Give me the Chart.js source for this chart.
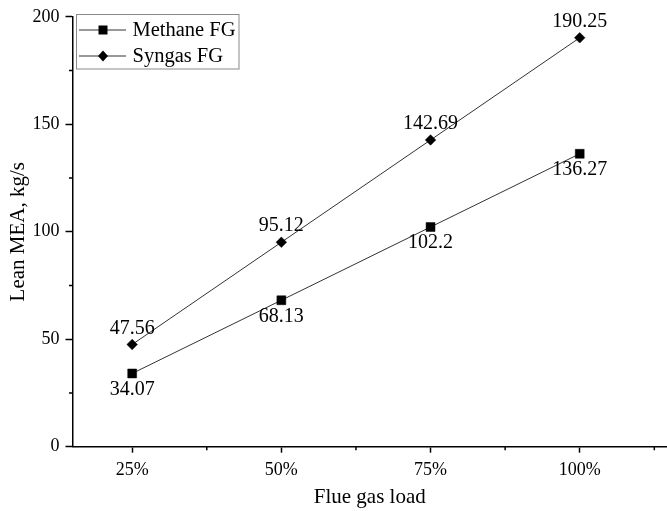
<!DOCTYPE html>
<html>
<head>
<meta charset="utf-8">
<script src="https://cdn.jsdelivr.net/npm/chart.js@4/dist/chart.umd.min.js"></script>
<style>
  html, body { margin: 0; padding: 0; background: #fff; }
  #wrap { width: 667px; height: 511px; position: relative; }
</style>
</head>
<body>
<div id="wrap"><canvas id="mea-chart"></canvas></div>
<script>
// Flue gas load categories and lean MEA flow (kg/s)
const loads = ['25%', '50%', '75%', '100%'];
const methaneFG = [34.07, 68.13, 102.2, 136.27];
const syngasFG = [47.56, 95.12, 142.69, 190.25];

const yTicks = [0, 50, 100, 150, 200];
const yMinorTicks = [25, 75, 125, 175];
const xMinorTicks = [1.5, 2.5, 3.5, 4.5];

const SERIF = '"Liberation Serif", "Times New Roman", serif';

const toPoints = values => values.map((v, i) => ({ x: i + 1, y: v }));

// Minor tick marks, value labels and the boxed legend
const decorations = {
  id: 'decorations',
  afterDraw(chart) {
    const { ctx, scales: { x, y } } = chart;
    ctx.save();

    // minor ticks
    ctx.strokeStyle = '#000';
    ctx.lineWidth = 1.5;
    ctx.beginPath();
    xMinorTicks.forEach(v => {
      const px = x.getPixelForValue(v);
      ctx.moveTo(px, y.bottom);
      ctx.lineTo(px, y.bottom + 3.5);
    });
    yMinorTicks.forEach(v => {
      const py = y.getPixelForValue(v);
      ctx.moveTo(x.left, py);
      ctx.lineTo(x.left - 3.5, py);
    });
    ctx.stroke();

    // value labels: syngas above, methane below
    ctx.fillStyle = '#000';
    ctx.font = '20px ' + SERIF;
    ctx.textAlign = 'center';
    ctx.textBaseline = 'middle';
    syngasFG.forEach((v, i) => {
      ctx.fillText(String(v), x.getPixelForValue(i + 1), y.getPixelForValue(v) - 16);
    });
    methaneFG.forEach((v, i) => {
      ctx.fillText(String(v), x.getPixelForValue(i + 1), y.getPixelForValue(v) + 16);
    });

    // legend
    const lx = 76.5, ly = 14.5, lw = 162.5, lh = 54.5;
    ctx.strokeStyle = '#8a8a8a';
    ctx.lineWidth = 1;
    ctx.strokeRect(lx, ly, lw, lh);

    const rows = [
      { label: 'Methane FG', style: 'rect', y: 30 },
      { label: 'Syngas FG', style: 'rectRot', y: 56 }
    ];
    rows.forEach(row => {
      ctx.strokeStyle = '#333';
      ctx.lineWidth = 1;
      ctx.beginPath();
      ctx.moveTo(79, row.y);
      ctx.lineTo(126, row.y);
      ctx.stroke();
      ctx.fillStyle = '#000';
      ctx.beginPath();
      if (row.style === 'rect') {
        ctx.rect(103 - 4.5, row.y - 4.5, 9, 9);
      } else {
        ctx.moveTo(103, row.y - 5.5);
        ctx.lineTo(108, row.y);
        ctx.lineTo(103, row.y + 5.5);
        ctx.lineTo(98, row.y);
        ctx.closePath();
      }
      ctx.fill();
      ctx.font = '20.5px ' + SERIF;
      ctx.textAlign = 'left';
      ctx.textBaseline = 'middle';
      ctx.fillText(row.label, 132.5, row.y + 1);
    });

    ctx.restore();
  }
};

const ctx = document.getElementById('mea-chart').getContext('2d');
new Chart(ctx, {
  type: 'line',
  data: {
    datasets: [
      {
        label: 'Methane FG',
        data: toPoints(methaneFG),
        borderColor: '#333',
        borderWidth: 1,
        pointStyle: 'rect',
        pointRadius: 6.3,
        pointBackgroundColor: '#000',
        pointBorderColor: '#000',
        pointBorderWidth: 0.5,
        tension: 0
      },
      {
        label: 'Syngas FG',
        data: toPoints(syngasFG),
        borderColor: '#333',
        borderWidth: 1,
        pointStyle: 'rectRot',
        pointRadius: 5.3,
        pointBackgroundColor: '#000',
        pointBorderColor: '#000',
        pointBorderWidth: 0.5,
        tension: 0
      }
    ]
  },
  options: {
    responsive: true,
    maintainAspectRatio: false,
    animation: false,
    layout: { autoPadding: false, padding: { top: 15.7, right: 0, bottom: 0, left: 0 } },
    plugins: {
      legend: { display: false },
      tooltip: { enabled: false }
    },
    scales: {
      x: {
        type: 'linear',
        min: 0.6,
        max: 4.585,
        afterBuildTicks: scale => {
          scale.ticks = loads.map((_, i) => ({ value: i + 1 }));
        },
        afterFit: scale => {
          scale.height = 64.3;
          scale.paddingLeft = 0;
          scale.paddingRight = 0;
        },
        border: { display: true, color: '#000', width: 1.5 },
        grid: { drawOnChartArea: false, tickLength: 6, tickColor: '#000', tickWidth: 1.5 },
        ticks: {
          color: '#000',
          font: { family: SERIF, size: 18 },
          padding: 7,
          maxRotation: 0,
          callback: value => loads[value - 1] ?? ''
        },
        title: {
          display: true,
          text: 'Flue gas load',
          color: '#000',
          font: { family: SERIF, size: 21 },
          padding: { top: 0, bottom: 1 }
        }
      },
      y: {
        min: 0,
        max: 200,
        afterBuildTicks: scale => {
          scale.ticks = yTicks.map(v => ({ value: v }));
        },
        afterFit: scale => { scale.width = 72.5; },
        border: { display: true, color: '#000', width: 1.5 },
        grid: { drawOnChartArea: false, tickLength: 7, tickColor: '#000', tickWidth: 1.5 },
        ticks: {
          color: '#000',
          font: { family: SERIF, size: 18 },
          padding: 6
        },
        title: {
          display: true,
          text: 'Lean MEA, kg/s',
          color: '#000',
          font: { family: SERIF, size: 21 },
          padding: { top: 5.5, bottom: 0 }
        }
      }
    }
  },
  plugins: [decorations]
});
</script>
</body>
</html>
